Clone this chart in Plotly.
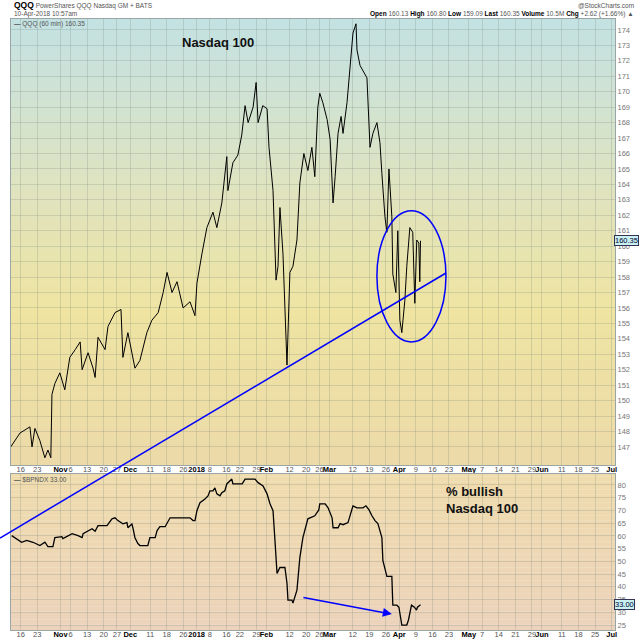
import plotly.graph_objects as go

# QQQ 60-minute line
qqq_time = [
    "2017-10-11 00:00", "2017-10-13 19:00", "2017-10-18 19:00", "2017-10-19 10:00", "2017-10-20 07:00",
    "2017-10-23 19:00", "2017-10-25 07:00", "2017-10-26 05:00", "2017-10-27 02:00", "2017-10-27 10:00",
    "2017-10-30 07:00", "2017-10-31 19:00", "2017-11-02 07:00", "2017-11-03 19:00", "2017-11-07 10:00",
    "2017-11-08 22:00", "2017-11-09 12:00", "2017-11-13 07:00", "2017-11-14 19:00", "2017-11-15 10:00",
    "2017-11-16 07:00", "2017-11-20 10:00", "2017-11-21 07:00", "2017-11-24 10:00", "2017-11-28 05:00",
    "2017-11-28 19:00", "2017-11-30 07:00", "2017-12-04 10:00", "2017-12-05 22:00", "2017-12-08 00:00",
    "2017-12-11 12:00", "2017-12-13 10:00", "2017-12-14 22:00", "2017-12-18 02:00", "2017-12-19 14:00",
    "2017-12-21 02:00", "2017-12-22 22:00", "2017-12-28 00:00", "2017-12-29 12:00", "2018-01-02 02:00",
    "2018-01-03 14:00", "2018-01-05 02:00", "2018-01-08 22:00", "2018-01-10 02:00", "2018-01-11 14:00",
    "2018-01-16 02:00", "2018-01-16 10:00", "2018-01-17 22:00", "2018-01-19 10:00", "2018-01-22 14:00",
    "2018-01-23 14:00", "2018-01-24 12:00", "2018-01-26 00:00", "2018-01-26 22:00", "2018-01-29 12:00",
    "2018-01-30 22:00", "2018-02-01 05:00", "2018-02-01 19:00", "2018-02-05 00:00", "2018-02-05 22:00",
    "2018-02-06 12:00", "2018-02-07 02:00", "2018-02-08 00:00", "2018-02-08 14:00", "2018-02-09 05:00",
    "2018-02-12 02:00", "2018-02-13 00:00", "2018-02-14 05:00", "2018-02-15 02:00", "2018-02-16 07:00",
    "2018-02-20 12:00", "2018-02-21 17:00", "2018-02-22 14:00", "2018-02-23 12:00", "2018-02-26 02:00",
    "2018-02-27 00:00", "2018-02-28 07:00", "2018-03-01 05:00", "2018-03-02 02:00", "2018-03-02 17:00",
    "2018-03-05 14:00", "2018-03-06 12:00", "2018-03-07 02:00", "2018-03-08 07:00", "2018-03-09 05:00",
    "2018-03-12 02:00", "2018-03-13 00:00", "2018-03-13 07:00", "2018-03-14 05:00", "2018-03-15 02:00",
    "2018-03-16 07:00", "2018-03-19 05:00", "2018-03-20 02:00", "2018-03-21 07:00", "2018-03-22 05:00",
    "2018-03-22 19:00", "2018-03-23 17:00", "2018-03-26 07:00", "2018-03-26 22:00", "2018-03-27 19:00",
    "2018-03-28 02:00", "2018-03-29 00:00", "2018-03-29 14:00", "2018-04-02 05:00", "2018-04-02 19:00",
    "2018-04-03 17:00", "2018-04-04 07:00", "2018-04-05 05:00", "2018-04-06 02:00", "2018-04-06 17:00",
    "2018-04-09 07:00", "2018-04-09 22:00", "2018-04-10 05:00", "2018-04-10 10:00",
]
qqq_close = [
    147.0, 147.9, 148.3, 147.0, 148.2,
    147.4, 146.3, 146.8, 146.3, 150.4,
    151.1, 151.8, 150.7, 152.8, 153.3,
    153.8, 152.0, 153.1, 152.1, 151.5,
    154.1, 153.3, 154.8, 155.7, 155.9,
    152.8, 154.4, 152.1, 152.6, 154.4,
    155.2, 155.7, 157.0, 158.3, 157.0,
    157.7, 156.0, 156.4, 155.5, 157.6,
    159.5, 161.2, 162.2, 161.2, 162.8,
    165.8, 163.6, 165.4, 165.9, 167.2,
    169.1, 168.0, 169.0, 170.6, 168.0,
    169.1, 168.9, 166.4, 163.6, 157.8,
    158.7, 162.5, 159.5, 156.1, 152.3,
    158.3, 158.7, 160.4, 164.1, 166.0,
    164.9, 166.4, 164.5, 169.0, 169.9,
    169.3, 168.2, 166.9, 162.8, 164.5,
    167.3, 168.4, 167.3, 169.3, 171.6,
    173.8, 174.4, 172.7, 171.7, 171.4,
    170.9, 166.4, 167.3, 168.0, 166.7,
    164.7, 161.9, 160.9, 165.0, 161.9,
    158.2, 157.0, 161.0, 155.2, 154.4,
    156.5, 158.7, 161.2, 160.9, 156.3,
    160.4, 160.2, 157.7, 160.35,
]

# $BPNDX (bullish percent, Nasdaq 100)
bp_time = [
    "2017-10-11 07:00", "2017-10-12 07:00", "2017-10-16 07:00", "2017-10-17 19:00", "2017-10-19 17:00",
    "2017-10-23 19:00", "2017-10-25 07:00", "2017-10-26 05:00", "2017-10-27 17:00", "2017-10-30 07:00",
    "2017-11-01 10:00", "2017-11-01 17:00", "2017-11-06 12:00", "2017-11-08 07:00", "2017-11-09 12:00",
    "2017-11-09 19:00", "2017-11-13 07:00", "2017-11-14 12:00", "2017-11-15 10:00", "2017-11-16 07:00",
    "2017-11-21 00:00", "2017-11-22 12:00", "2017-11-24 10:00", "2017-11-27 07:00", "2017-11-28 19:00",
    "2017-11-30 00:00", "2017-11-30 07:00", "2017-12-01 12:00", "2017-12-01 19:00", "2017-12-04 10:00",
    "2017-12-05 07:00", "2017-12-05 22:00", "2017-12-08 07:00", "2017-12-08 22:00", "2017-12-12 12:00",
    "2017-12-13 02:00", "2017-12-13 22:00", "2017-12-15 12:00", "2017-12-19 00:00", "2017-12-28 00:00",
    "2017-12-28 22:00", "2017-12-29 12:00", "2018-01-02 02:00", "2018-01-03 00:00", "2018-01-04 12:00",
    "2018-01-05 10:00", "2018-01-08 00:00", "2018-01-08 22:00", "2018-01-09 12:00", "2018-01-10 02:00",
    "2018-01-11 00:00", "2018-01-11 14:00", "2018-01-12 12:00", "2018-01-16 02:00", "2018-01-17 14:00",
    "2018-01-17 22:00", "2018-01-22 17:00", "2018-01-23 14:00", "2018-01-26 14:00", "2018-01-29 12:00",
    "2018-01-31 00:00", "2018-02-01 05:00", "2018-02-02 02:00", "2018-02-05 00:00", "2018-02-05 14:00",
    "2018-02-06 05:00", "2018-02-07 02:00", "2018-02-08 14:00", "2018-02-09 05:00", "2018-02-09 12:00",
    "2018-02-12 17:00", "2018-02-13 00:00", "2018-02-14 05:00", "2018-02-15 02:00", "2018-02-16 00:00",
    "2018-02-20 12:00", "2018-02-22 14:00", "2018-02-23 19:00", "2018-02-26 02:00", "2018-02-27 17:00",
    "2018-02-28 14:00", "2018-03-01 19:00", "2018-03-02 02:00", "2018-03-05 14:00", "2018-03-06 05:00",
    "2018-03-07 02:00", "2018-03-08 14:00", "2018-03-09 19:00", "2018-03-12 02:00", "2018-03-13 07:00",
    "2018-03-15 02:00", "2018-03-16 00:00", "2018-03-16 22:00", "2018-03-19 19:00", "2018-03-20 17:00",
    "2018-03-21 14:00", "2018-03-22 19:00", "2018-03-23 02:00", "2018-03-26 07:00", "2018-03-27 19:00",
    "2018-03-28 02:00", "2018-03-29 07:00", "2018-03-29 22:00", "2018-04-02 19:00", "2018-04-04 07:00",
    "2018-04-04 19:00", "2018-04-05 17:00", "2018-04-06 14:00", "2018-04-09 05:00", "2018-04-09 12:00",
    "2018-04-10 10:00",
]
bp_value = [
    60.1, 59.2, 57.5, 58.2, 57.5,
    56.2, 57.5, 55.8, 55.8, 59.3,
    59.7, 58.9, 60.9, 60.1, 59.3,
    60.9, 62.1, 62.8, 61.8, 64.0,
    64.0, 66.7, 67.1, 66.0, 64.7,
    65.2, 63.2, 64.7, 63.2, 59.3,
    57.0, 56.2, 56.2, 59.3, 59.3,
    62.1, 63.6, 63.6, 67.1, 67.1,
    66.0, 66.0, 69.9, 73.0, 74.5,
    75.7, 77.7, 77.7, 78.8, 76.5,
    75.7, 76.9, 77.7, 80.4, 82.3,
    80.4, 80.4, 82.3, 82.3, 80.9,
    79.6, 76.5, 72.6, 69.9, 58.2,
    45.3, 47.6, 47.6, 41.4, 34.8,
    34.8, 33.6, 38.7, 51.5, 59.3,
    66.7, 67.9, 70.2, 72.6, 72.6,
    71.0, 67.1, 63.2, 63.2, 64.8,
    64.4, 65.2, 69.9, 71.8, 71.0,
    71.0, 71.8, 70.2, 67.9, 66.0,
    64.8, 59.3, 50.4, 44.1, 44.1,
    32.8, 32.8, 32.0, 25.0, 25.0,
    27.0, 32.8, 32.0, 30.9, 32.0,
    33.0,
]

# market holidays (removed from the time axis like weekends)
holidays = ["2017-11-23", "2017-12-25", "2018-01-01", "2018-01-15",
            "2018-02-19", "2018-03-30", "2018-05-28"]

tick_dates = [
    "2017-10-16", "2017-10-23", "2017-11-01", "2017-11-06", "2017-11-13", "2017-11-20",
    "2017-11-27", "2017-12-01", "2017-12-11", "2017-12-18", "2017-12-26", "2018-01-02",
    "2018-01-08", "2018-01-16", "2018-01-22", "2018-01-29", "2018-02-01", "2018-02-12",
    "2018-02-20", "2018-02-26", "2018-03-01", "2018-03-12", "2018-03-19", "2018-03-26",
    "2018-04-02", "2018-04-09", "2018-04-16", "2018-04-23", "2018-05-01", "2018-05-07",
    "2018-05-14", "2018-05-21", "2018-05-29", "2018-06-01", "2018-06-11", "2018-06-18",
    "2018-06-25", "2018-07-02",
]
tick_text = [
    "16", "23", "Nov", "6", "13", "20", "27", "Dec", "11", "18", "26", "2018",
    "8", "16", "22", "29", "Feb", "12", "20", "26", "Mar", "12", "19", "26",
    "Apr", "9", "16", "23", "May", "7", "14", "21", "29", "Jun", "11", "18",
    "25", "Jul",
]
bold_ticks = {"Nov", "Dec", "2018", "Feb", "Mar", "Apr", "May", "Jun", "Jul"}

top_ticks = list(range(147, 175))
bottom_ticks = list(range(25, 85, 5))

last_qqq = 160.35
last_bp = 33.00

# ---- layout geometry (pixels of the 640x640 page) ----
W, H = 640, 640
ML, MR, MT, MB = 11, 25, 19, 10
PW = W - ML - MR
PH = H - MT - MB


def px_x(px):
    return (px - ML) / PW


def px_y(py):
    return (H - MB - py) / PH


def hex_rgb(c):
    c = c.lstrip("#")
    return [int(c[i:i + 2], 16) for i in (0, 2, 4)]


def gradient(xref, yref, stops, n=60):
    shapes = []
    for k in range(n):
        t = (k + 0.5) / n
        for j in range(len(stops) - 1):
            if stops[j][0] <= t <= stops[j + 1][0]:
                a, b = stops[j], stops[j + 1]
                break
        f = (t - a[0]) / (b[0] - a[0])
        ca, cb = hex_rgb(a[1]), hex_rgb(b[1])
        col = "rgb(%d,%d,%d)" % tuple(round(ca[i] + (cb[i] - ca[i]) * f) for i in range(3))
        shapes.append(dict(
            type="rect", xref=xref, yref=yref, x0=0, x1=1,
            y0=k / n, y1=(k + 1) / n + 0.002,
            fillcolor=col, line=dict(width=0), layer="below",
        ))
    return shapes


fig = go.Figure()

fig.add_trace(go.Scatter(
    x=qqq_time, y=qqq_close, mode="lines",
    line=dict(color="black", width=1), xaxis="x", yaxis="y",
    showlegend=False,
))
fig.add_trace(go.Scatter(
    x=bp_time, y=bp_value, mode="lines",
    line=dict(color="black", width=1.3), xaxis="x2", yaxis="y2",
    showlegend=False,
))

ticktext = ["<b><span style='color:#000'>%s</span></b>" % t if t in bold_ticks else t
            for t in tick_text]
grid = "rgba(110,125,115,0.22)"
xaxis_common = dict(
    type="date",
    range=["2017-10-11 02:00", "2018-07-03 00:00"],
    rangebreaks=[dict(bounds=["sat", "mon"]), dict(values=holidays)],
    tickmode="array", tickvals=tick_dates, ticktext=ticktext,
    tickfont=dict(size=7.5, color="#555", family="Liberation Sans"),
    ticks="", ticklen=0, tickangle=0, automargin=False, ticklabelstandoff=-3,
    showgrid=True, gridcolor=grid, gridwidth=1,
    showline=True, linecolor="#9aa6a6", linewidth=1, mirror=True,
    zeroline=False,
)
yaxis_common = dict(
    side="right", ticks="", ticklen=0, automargin=False,
    showgrid=True, gridcolor=grid, gridwidth=1,
    tickfont=dict(size=7.5, color="#777", family="Liberation Sans"),
    showline=True, linecolor="#9aa6a6", linewidth=1, mirror=True,
    zeroline=False,
)

top_dom = [px_y(465), 1]
bot_dom = [0, px_y(474)]

fig.update_layout(
    width=W, height=H,
    margin=dict(l=ML, r=MR, t=MT, b=MB, autoexpand=False),
    paper_bgcolor="white", plot_bgcolor="white",
    xaxis=dict(xaxis_common, anchor="y", domain=[0, 1]),
    xaxis2=dict(xaxis_common, anchor="y2", domain=[0, 1], matches="x"),
    yaxis=dict(yaxis_common, domain=top_dom, range=[145.83, 174.71],
               tickmode="array", tickvals=top_ticks, anchor="x"),
    yaxis2=dict(yaxis_common, domain=bot_dom, range=[23.06, 84.29],
                tickmode="array", tickvals=bottom_ticks, anchor="x2"),
    font=dict(family="Liberation Sans", color="#333"),
)

shapes = []
shapes += gradient("x domain", "y domain",
                   [(0, "#ecdaa9"), (0.35, "#efe4a2"), (0.65, "#dde3c3"), (1, "#c3e2e3")])
shapes += gradient("x2 domain", "y2 domain", [(0, "#ecd3bc"), (1, "#efdcad")])

# hand-drawn trendline across both panels
shapes.append(dict(type="line", xref="paper", yref="paper",
                   x0=px_x(0), y0=px_y(538), x1=px_x(446), y1=px_y(273),
                   line=dict(color="#0000ff", width=1.5)))
# circle around the April lows
shapes.append(dict(type="circle", xref="x", yref="y",
                   x0="2018-03-21 07:00", x1="2018-04-20 02:00", y0=153.8, y1=162.3,
                   line=dict(color="#0000ff", width=1.5)))
fig.update_layout(shapes=shapes)

small = dict(family="Liberation Sans", size=6.5, color="#555")
ann = [
    dict(x=px_x(12), y=px_y(5), text="<b><span style='font-size:8.5px;color:#000'>QQQ</span></b> PowerShares QQQ Nasdaq GM + BATS",
         font=small, xanchor="left"),
    dict(x=px_x(12), y=px_y(14), text="10-Apr-2018 10:57am", font=small, xanchor="left"),
    dict(x=px_x(636), y=px_y(5), text="@StockCharts.com", font=small, xanchor="right"),
    dict(x=px_x(636), y=px_y(14),
         text="<b><span style='color:#000'>Open</span></b> 160.13 <b><span style='color:#000'>High</span></b> 160.80 "
              "<b><span style='color:#000'>Low</span></b> 159.09 <b><span style='color:#000'>Last</span></b> 160.35 "
              "<b><span style='color:#000'>Volume</span></b> 10.5M <b><span style='color:#000'>Chg</span></b> +2.62 (+1.66%) ▲",
         font=small, xanchor="right"),
    dict(x=px_x(12), y=px_y(24), text="<b>—</b> QQQ (60 min) 160.35", font=small, xanchor="left"),
    dict(x=px_x(12), y=px_y(479), text="<b>—</b> $BPNDX 33.00", font=small, xanchor="left"),
    dict(x=px_x(218), y=px_y(42), text="<b>Nasdaq 100</b>",
         font=dict(family="Liberation Sans", size=13, color="#111"), xanchor="center"),
    dict(x=px_x(444), y=px_y(500), text="<b>% bullish<br>Nasdaq 100</b>", align="left",
         font=dict(family="Liberation Sans", size=13, color="#111"), xanchor="left"),
]
for a in ann:
    a.update(xref="paper", yref="paper", showarrow=False, yanchor="middle")

# last-value tags on the right axis
for yref, val in (("y", last_qqq), ("y2", last_bp)):
    ann.append(dict(xref="paper", yref=yref, x=px_x(614), y=val, text="%.2f" % val,
                    showarrow=False, xanchor="left", yanchor="middle",
                    font=dict(family="Liberation Sans", size=7.5, color="#003"),
                    bgcolor="#c9f1f1", bordercolor="#335", borderwidth=1, borderpad=0))

# arrow in the bullish-percent panel
ann.append(dict(xref="x2", yref="y2", axref="x2", ayref="y2",
                x="2018-03-27 19:00", y=29.3, ax="2018-02-15 17:00", ay=35.9,
                text="", showarrow=True, arrowhead=2, arrowsize=1.2, arrowwidth=1.5,
                arrowcolor="#0000ff", standoff=0))

fig.update_layout(annotations=ann)

# the page's default 8px body margin would push the 640px figure off the window
fig.write_html("out.html", config={"displayModeBar": False},
               post_script="document.body.style.margin='0';")
